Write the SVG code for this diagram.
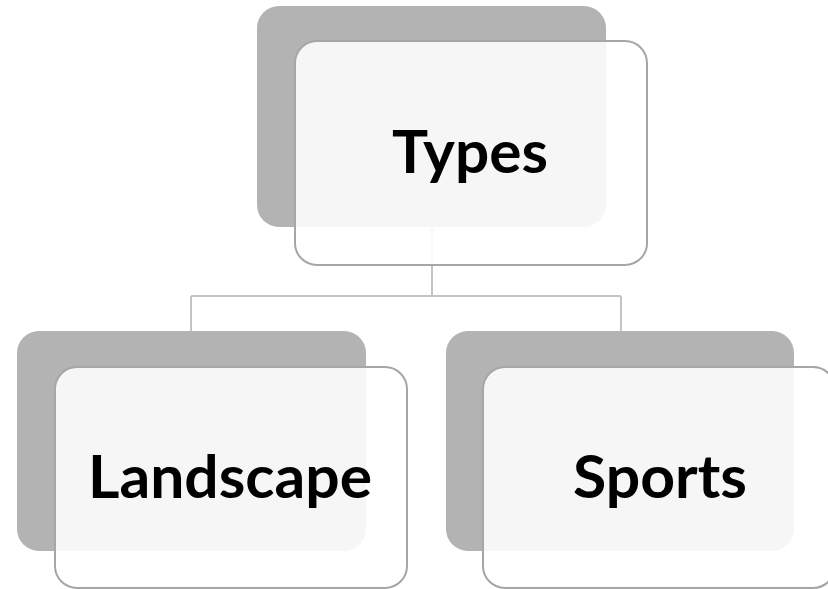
<svg xmlns="http://www.w3.org/2000/svg" width="828" height="589" viewBox="0 0 828 589">
<style>
.back{fill:#b3b3b3}
.front{fill:#ffffff;fill-opacity:0.88;stroke:#a6a6a6;stroke-width:2}
.lbl{font-family:Lato,"Open Sans","Liberation Sans",sans-serif;font-weight:700;font-size:60px;fill:#000;text-anchor:middle}
.conn{fill:none;stroke:#c4c4c4;stroke-width:2}
</style>
<rect width="828" height="589" fill="#ffffff"/>
<g id="connectors">
<path class="conn" d="M432 227 V296 M191 296 H621 M191 296 V331 M621 296 V331"/>
</g>
<g id="types">
<rect class="back" x="257" y="6" width="349" height="221" rx="22"/>
<rect class="front" x="295" y="41" width="352" height="224" rx="22"/>
<text class="lbl" x="470" y="173" textLength="156" lengthAdjust="spacingAndGlyphs">Types</text>
</g>
<g id="landscape">
<rect class="back" x="17" y="331" width="349" height="220" rx="22"/>
<rect class="front" x="55" y="367" width="352" height="221" rx="22"/>
<text class="lbl" x="230" y="498" textLength="284" lengthAdjust="spacingAndGlyphs">Landscape</text>
</g>
<g id="sports">
<rect class="back" x="446" y="331" width="348" height="220" rx="22"/>
<rect class="front" x="483" y="367" width="352" height="221" rx="22"/>
<text class="lbl" x="660" y="498" textLength="174" lengthAdjust="spacingAndGlyphs">Sports</text>
</g>
</svg>
